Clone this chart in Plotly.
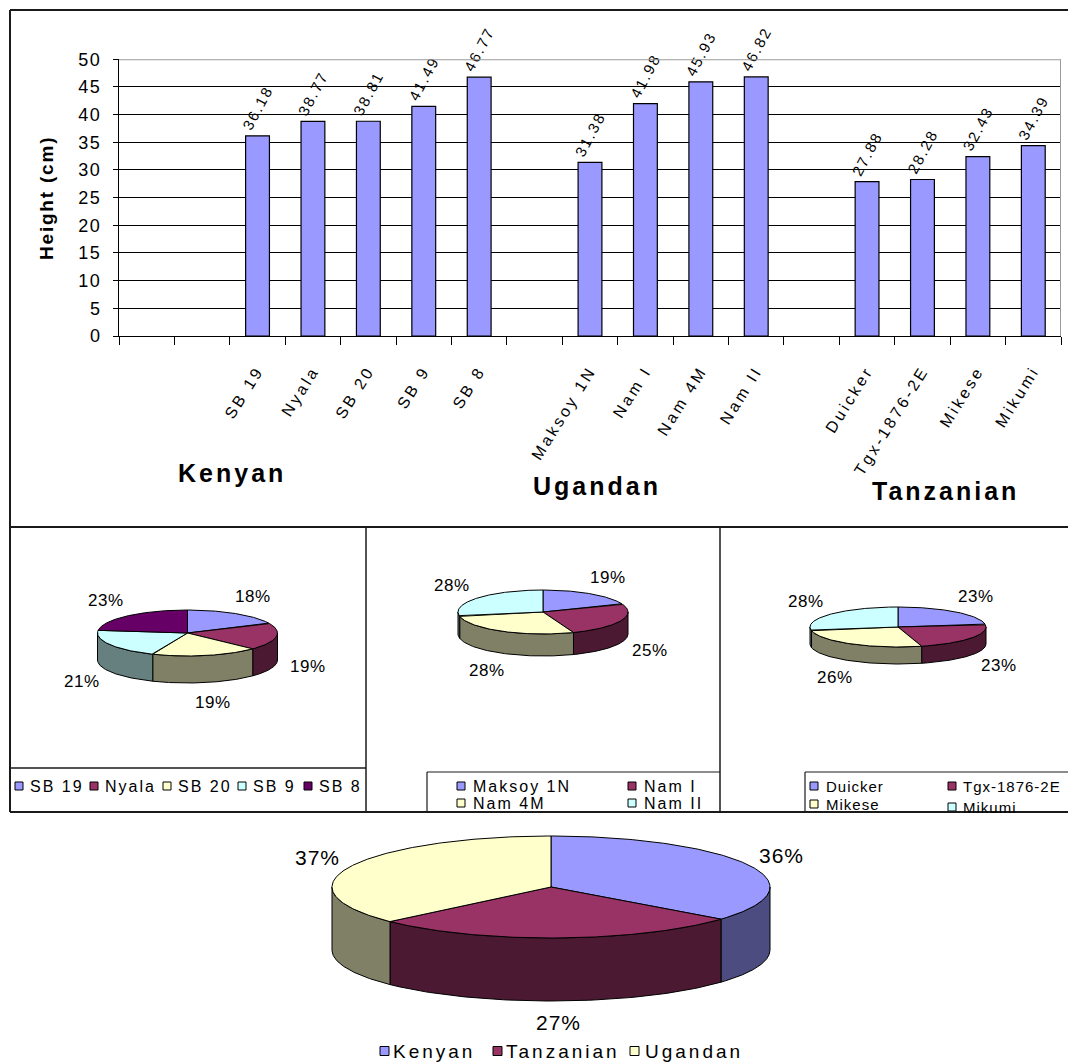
import numpy as np
import plotly.graph_objects as go

# ---- data ---------------------------------------------------------------
kenyan_varieties = ["SB 19", "Nyala", "SB 20", "SB 9", "SB 8"]
kenyan_heights = [36.18, 38.77, 38.81, 41.49, 46.77]

ugandan_varieties = ["Maksoy 1N", "Nam I", "Nam 4M", "Nam II"]
ugandan_heights = [31.38, 41.98, 45.93, 46.82]

tanzanian_varieties = ["Duicker", "Tgx-1876-2E", "Mikese", "Mikumi"]
tanzanian_heights = [27.88, 28.28, 32.43, 34.39]

origin_names = ["Kenyan", "Tanzanian", "Ugandan"]
height_ticks = [0, 5, 10, 15, 20, 25, 30, 35, 40, 45, 50]

# ---- styling ------------------------------------------------------------
W, H = 1068, 1063
FONT = "Arial, Liberation Sans, sans-serif"
BAR_COLOR = "#9999FF"
TOP_COLORS = ["#9999FF", "#993366", "#FFFFCC", "#CCFFFF", "#660066"]
WALL_COLORS = ["#4C4C80", "#4C1933", "#808066", "#668080", "#330033"]
FRAME = "#1a1a1a"


def spaced(text, px):
    """Wrap text in a span with extra letter spacing."""
    return f'<span style="letter-spacing:{px}px">{text}</span>'


fig = go.Figure()

# ---- bar chart: one slot per variety, blank slot between origins ---------
groups = [
    (kenyan_varieties, kenyan_heights),
    (ugandan_varieties, ugandan_heights),
    (tanzanian_varieties, tanzanian_heights),
]
slot = 2
bar_x, bar_y, bar_names = [], [], []
for names, heights in groups:
    for name, h in zip(names, heights):
        bar_x.append(slot)
        bar_y.append(h)
        bar_names.append(name)
        slot += 1
    slot += 1
n_slots = slot - 1

fig.add_trace(go.Bar(
    x=bar_x, y=bar_y, width=0.43,
    marker=dict(color=BAR_COLOR, line=dict(color="black", width=1.2)),
    text=[spaced(f"{v:.2f}", 2) for v in bar_y], texttemplate="%{text}",
    textposition="outside", textangle=-62, constraintext="none",
    textfont=dict(size=15, color="black", family=FONT),
    cliponaxis=False, showlegend=False, hoverinfo="skip",
    xaxis="x", yaxis="y",
))


# ---- 3-D style pies drawn on a pixel-scaled overlay axis ------------------
def pie_3d(values, colors, walls, cx, cy, rx, ry, depth,
           label_size, label_spacing, pad_x, pad_y):
    vals = np.asarray(values, dtype=float)
    frac = vals / vals.sum()
    cum = np.concatenate([[0.0], np.cumsum(frac)])
    a_start = 90 - 360 * cum[:-1]
    a_end = 90 - 360 * cum[1:]

    def ellipse(a, drop=0.0):
        r = np.radians(a)
        return cx + rx * np.cos(r), cy - ry * np.sin(r) + drop

    # side walls on the front half (angles between -180 and 0)
    for i in range(len(vals)):
        for k in (-360, 0, 360):
            lo = max(a_end[i], -180 + k)
            hi = min(a_start[i], k)
            if hi > lo:
                t = np.linspace(lo, hi, 80)
                x_top, y_top = ellipse(t)
                x_bot, y_bot = ellipse(t[::-1], depth)
                fig.add_trace(go.Scatter(
                    x=np.concatenate([x_top, x_bot, x_top[:1]]),
                    y=np.concatenate([y_top, y_bot, y_top[:1]]),
                    mode="lines", fill="toself", fillcolor=walls[i],
                    line=dict(color="black", width=1),
                    xaxis="x2", yaxis="y2", showlegend=False, hoverinfo="skip",
                ))

    # top surface slices
    for i in range(len(vals)):
        t = np.linspace(a_start[i], a_end[i], 160)
        x_arc, y_arc = ellipse(t)
        fig.add_trace(go.Scatter(
            x=np.concatenate([[cx], x_arc, [cx]]),
            y=np.concatenate([[cy], y_arc, [cy]]),
            mode="lines", fill="toself", fillcolor=colors[i],
            line=dict(color="black", width=1),
            xaxis="x2", yaxis="y2", showlegend=False, hoverinfo="skip",
        ))

    # percentage labels around the pie
    for i in range(len(vals)):
        m = np.radians((a_start[i] + a_end[i]) / 2)
        lx = cx + (rx + pad_x) * np.cos(m)
        ly = cy - (ry + pad_y) * np.sin(m) + (depth if np.sin(m) < 0 else 0)
        fig.add_annotation(
            x=lx, y=ly, xref="x2", yref="y2", showarrow=False,
            text=spaced(f"{round(frac[i] * 100):.0f}%", label_spacing),
            font=dict(size=label_size, color="black", family=FONT),
        )


def legend_entries(names, colors, swatch_x, text_x, rows, size, font_size, spacing):
    for name, color, sx, tx, sy in zip(names, colors, swatch_x, text_x, rows):
        fig.add_shape(type="rect", xref="x2", yref="y2",
                      x0=sx, x1=sx + size, y0=sy - size / 2, y1=sy + size / 2,
                      fillcolor=color, line=dict(color="black", width=1))
        fig.add_annotation(x=tx, y=sy, xref="x2", yref="y2", showarrow=False,
                           xanchor="left", yanchor="middle",
                           text=spaced(name, spacing),
                           font=dict(size=font_size, color="black", family=FONT))


pie_3d(kenyan_heights, TOP_COLORS, WALL_COLORS,
       cx=187.5, cy=633, rx=90, ry=23, depth=27,
       label_size=17, label_spacing=0.5, pad_x=32, pad_y=20)
pie_3d(ugandan_heights, TOP_COLORS, WALL_COLORS,
       cx=543, cy=612, rx=85, ry=22, depth=22,
       label_size=17, label_spacing=0.5, pad_x=32, pad_y=20)
pie_3d(tanzanian_heights, TOP_COLORS, WALL_COLORS,
       cx=898, cy=627, rx=88, ry=20, depth=17,
       label_size=17, label_spacing=0.5, pad_x=32, pad_y=20)

origin_means = {
    "Kenyan": np.mean(kenyan_heights),
    "Tanzanian": np.mean(tanzanian_heights),
    "Ugandan": np.mean(ugandan_heights),
}
origin_colors = ["#9999FF", "#993366", "#FFFFCC"]
origin_walls = ["#4C4C80", "#4C1933", "#808066"]
pie_3d([origin_means[o] for o in origin_names], origin_colors, origin_walls,
       cx=551, cy=887, rx=219, ry=51, depth=63,
       label_size=21, label_spacing=1, pad_x=36, pad_y=22)

# ---- legends --------------------------------------------------------------
legend_entries(kenyan_varieties, TOP_COLORS,
               swatch_x=[15, 90, 163, 238, 304], text_x=[28, 103, 176, 251, 317],
               rows=[786] * 5, size=8, font_size=16, spacing=2)
legend_entries(ugandan_varieties, TOP_COLORS,
               swatch_x=[457, 628, 457, 628], text_x=[471, 642, 471, 642],
               rows=[786, 786, 803, 803], size=8, font_size=16, spacing=2)
legend_entries(tanzanian_varieties, TOP_COLORS,
               swatch_x=[810, 948, 810, 948], text_x=[824, 961, 824, 961],
               rows=[786, 786, 804, 807], size=8, font_size=15, spacing=1)
legend_entries(origin_names, origin_colors,
               swatch_x=[380, 493, 630], text_x=[391, 504, 643],
               rows=[1051] * 3, size=9, font_size=19, spacing=3)

# ---- frames ---------------------------------------------------------------
frame_lines = [
    (10, 10, W + 2, 10, 2), (10, 10, 10, 812, 2), (10, 527, W + 2, 527, 2),
    (366, 527, 366, 812, 1.5), (720, 527, 720, 812, 1.5), (10, 812, W + 2, 812, 2),
    (10, 768, 366, 768, 1.5),
    (427, 772, 720, 772, 1.2), (427, 772, 427, 812, 1.2),
    (805, 772, W + 2, 772, 1.2), (805, 772, 805, 812, 1.2),
]
for x0, y0, x1, y1, w in frame_lines:
    fig.add_shape(type="line", xref="x2", yref="y2", x0=x0, y0=y0, x1=x1, y1=y1,
                  line=dict(color=FRAME, width=w))

# light border on top and right of the bar plot area
fig.add_shape(type="line", xref="x", yref="y", x0=-0.5, x1=n_slots - 0.5, y0=50, y1=50,
              line=dict(color="#9a9a9a", width=2), layer="above")
fig.add_shape(type="line", xref="x", yref="y", x0=n_slots - 0.5, x1=n_slots - 0.5, y0=0, y1=50,
              line=dict(color="#9a9a9a", width=2), layer="above")

# ---- text labels on the bar panel ----------------------------------------
fig.add_annotation(x=46, y=198, xref="x2", yref="y2", showarrow=False, textangle=-90,
                   text="<b>" + spaced("Height (cm)", 1.8) + "</b>",
                   font=dict(size=19, color="black", family=FONT))
for name, (gx, gy) in zip(["Kenyan", "Ugandan", "Tanzanian"],
                          [(232, 473), (597, 486), (945, 491)]):
    fig.add_annotation(x=gx, y=gy, xref="x2", yref="y2", showarrow=False,
                       text="<b>" + spaced(name, 3) + "</b>",
                       font=dict(size=25, color="black", family=FONT))

fig.update_layout(
    width=W, height=H, margin=dict(l=0, r=0, t=0, b=0),
    paper_bgcolor="white", plot_bgcolor="rgba(0,0,0,0)",
    font=dict(family=FONT, color="black"), showlegend=False, hovermode=False,
    xaxis=dict(
        domain=[119 / W, 1061 / W], range=[-0.5, n_slots - 0.5], anchor="y",
        tickmode="array", tickvals=bar_x, ticktext=[spaced(n, 3) for n in bar_names],
        tickangle=-58, tickfont=dict(size=16, color="black"), ticks="",
        ticklabelstandoff=18, automargin=False,
        showline=True, linecolor="black", linewidth=1, showgrid=False, zeroline=False,
        minor=dict(tickmode="array", tickvals=[i - 0.5 for i in range(n_slots + 1)],
                   ticks="outside", ticklen=8, tickcolor="black", tickwidth=1,
                   showgrid=False),
        fixedrange=True,
    ),
    yaxis=dict(
        domain=[(H - 336) / H, (H - 59.3) / H], range=[0, 50], anchor="x",
        tickmode="array", tickvals=height_ticks,
        ticktext=[spaced(str(t), 1.5) for t in height_ticks],
        tickfont=dict(size=18, color="black"), ticks="outside", ticklen=5,
        tickcolor="black", ticklabelstandoff=8, automargin=False,
        showline=True, linecolor="black", linewidth=1,
        showgrid=True, gridcolor="black", gridwidth=1, zeroline=False,
        fixedrange=True,
    ),
    xaxis2=dict(domain=[0, 1], range=[0, W], visible=False, anchor="y2", fixedrange=True),
    yaxis2=dict(domain=[0, 1], range=[H, 0], visible=False, anchor="x2", fixedrange=True),
)

fig.write_html("out.html")
